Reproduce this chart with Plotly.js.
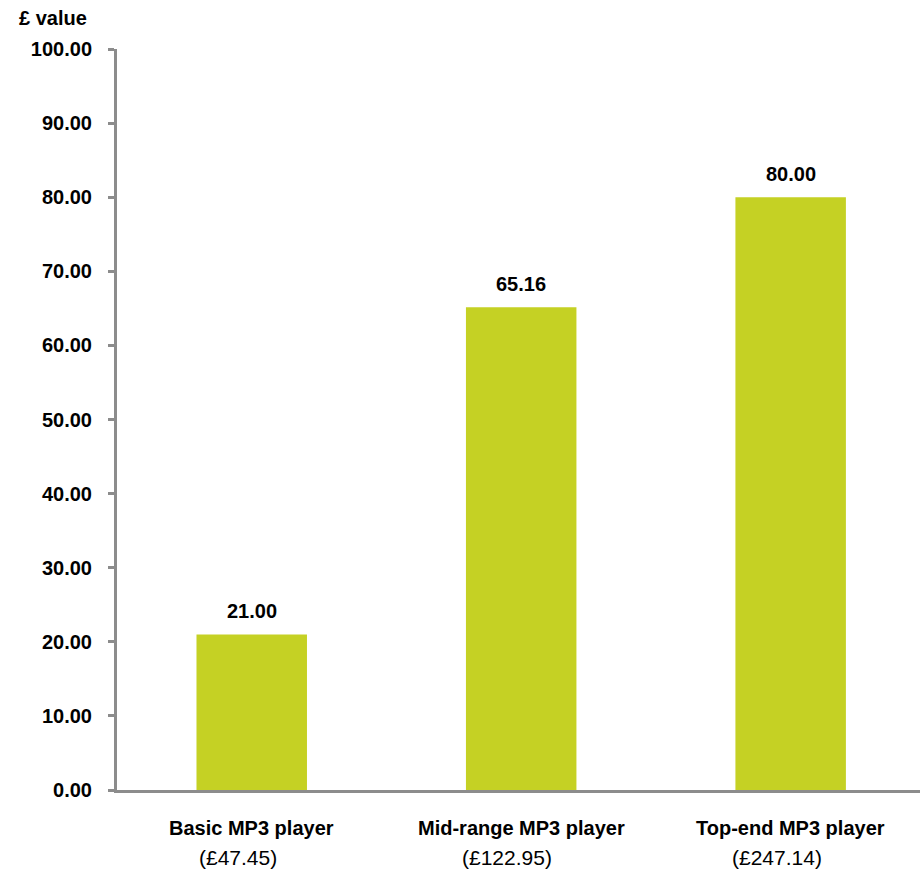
<!DOCTYPE html>
<html><head><meta charset="utf-8">
<script src="https://cdn.plot.ly/plotly-3.0.1.min.js"></script>
<style>html,body{margin:0;padding:0;background:#fff}#chart{width:920px;height:871px}</style>
</head><body><div id="chart"></div>
<script>
const categories = ["Basic MP3 player", "Mid-range MP3 player", "Top-end MP3 player"];
const prices = ["(£47.45)", "(£122.95)", "(£247.14)"];
const values = [21.00, 65.16, 80.00];
const yTickVals = [0,10,20,30,40,50,60,70,80,90,100];
const yTickText = yTickVals.map(v => v.toFixed(2));

const F = "Liberation Sans, Arial, sans-serif";
const axisGrey = "#8c8c8c";
const barColor = "#c5d124";

const idx = categories.map((c,i)=>i);
const trace = {
  type: "bar", x: idx, y: values, width: 0.41,
  marker: {color: barColor}, hoverinfo: "skip"
};
const ann = [];
idx.forEach(i => {
  ann.push({xref:"x", yref:"y", x:i, y:values[i], text:"<b>"+values[i].toFixed(2)+"</b>",
    showarrow:false, yanchor:"bottom", yshift:10, font:{family:F, size:20, color:"#000"}});
  ann.push({xref:"x", yref:"paper", x:i, y:0, text:"<b>"+categories[i]+"</b>",
    showarrow:false, yanchor:"middle", yshift:-38, font:{family:F, size:20, color:"#000"}});
  ann.push({xref:"x", yref:"paper", x:i, y:0, text:prices[i],
    showarrow:false, yanchor:"middle", yshift:-67, xshift:-14, font:{family:F, size:21, color:"#000"}});
});
ann.push({xref:"paper", yref:"paper", x:0, y:1, xanchor:"right", yanchor:"bottom",
  xshift:-28, yshift:18, text:"<b>£ value</b>", showarrow:false, font:{family:F, size:20, color:"#000"}});

const layout = {
  width: 920, height: 871,
  margin: {l:117, r:0, t:49, b:81},
  paper_bgcolor: "#fff", plot_bgcolor: "#fff",
  showlegend: false,
  xaxis: {range:[-0.5, 2.48], showticklabels:false, ticks:"", showgrid:false, zeroline:false,
    showline:true, linecolor:axisGrey, linewidth:3, fixedrange:true},
  yaxis: {range:[0,100], tickvals:yTickVals, ticktext:yTickText, ticks:"outside", ticklen:6,
    tickwidth:3, tickcolor:axisGrey, showgrid:false, zeroline:false, showline:true,
    linecolor:axisGrey, linewidth:3, ticklabelstandoff:12,
    tickfont:{family:F, size:20, color:"#000", weight:"bold"}, fixedrange:true},
  annotations: ann
};
Plotly.newPlot("chart", [trace], layout, {displayModeBar:false, staticPlot:true});
</script></body></html>
